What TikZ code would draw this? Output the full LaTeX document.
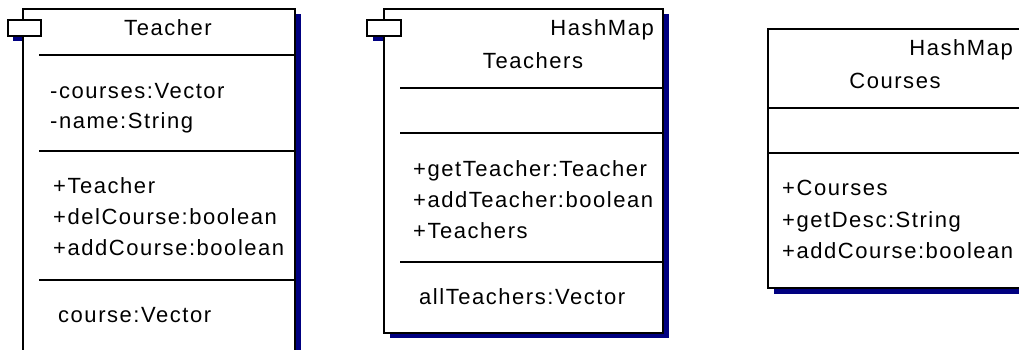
\documentclass[tikz,border=0pt]{standalone}
\usepackage{fontspec}
\setmainfont{Liberation Sans}[LetterSpace=7]
\definecolor{shadowblue}{RGB}{0,0,128}
\begin{document}
\begin{tikzpicture}[x=1pt,y=-1pt,
  boxline/.style={draw=black,line width=1.6pt},
  shadowfill/.style={fill=shadowblue,draw=none},
  txt/.style={inner sep=0pt,font=\fontsize{22}{26}\selectfont},
  lefttxt/.style={txt,anchor=base west},
  righttxt/.style={txt,anchor=base east},
  ctxt/.style={txt,anchor=base}]
\useasboundingbox (0,0) rectangle (1019,349);
\fill[white] (0,0) rectangle (1019,349);
\begin{scope}
\clip (0,0) rectangle (1019,349);
% ---------- Teacher ----------
\fill[shadowfill] (13,25) rectangle (23,41);
\fill[shadowfill] (295,14) rectangle (301,360);
\fill[white] (23,9) rectangle (295,360);
\draw[boxline] (23,360) -- (23,9) -- (295,9) -- (295,360);
\draw[boxline,fill=white] (8,20) rectangle (41,36);
\draw[boxline] (39,55) -- (295,55);
\draw[boxline] (39,151) -- (295,151);
\draw[boxline] (39,280) -- (295,280);
\node[ctxt] (t1) at (168,35) {Teacher};
\node[lefttxt] (t2) at (50,98) {-courses:Vector};
\node[lefttxt] (t3) at (50,128) {-name:String};
\node[lefttxt] (t4) at (53,193) {+Teacher};
\node[lefttxt] (t5) at (53,224) {+delCourse:boolean};
\node[lefttxt] (t6) at (53,255) {+addCourse:boolean};
\node[lefttxt] (t7) at (58,322) {course:Vector};
% ---------- Teachers ----------
\fill[shadowfill] (373,25) rectangle (384,41);
\fill[shadowfill] (390,14) rectangle (669,338);
\draw[boxline,fill=white] (384,9) rectangle (663,333);
\draw[boxline,fill=white] (367,20) rectangle (401,36);
\draw[boxline] (400,88) -- (663,88);
\draw[boxline] (400,133) -- (663,133);
\draw[boxline] (400,262) -- (663,262);
\node[righttxt] (s1) at (654,35) {HashMap};
\node[ctxt] (s2) at (533,68) {Teachers};
\node[lefttxt] (s3) at (413,176) {+getTeacher:Teacher};
\node[lefttxt] (s4) at (413,207) {+addTeacher:boolean};
\node[lefttxt] (s5) at (413,238) {+Teachers};
\node[lefttxt] (s6) at (419,304) {allTeachers:Vector};
% ---------- Courses ----------
\fill[shadowfill] (774,34) rectangle (1030,294);
\draw[boxline,fill=white] (768,29) rectangle (1040,288);
\draw[boxline] (768,108) -- (1040,108);
\draw[boxline] (768,153) -- (1040,153);
\node[righttxt] (c1) at (1013,55) {HashMap};
\node[ctxt] (c2) at (895,88) {Courses};
\node[lefttxt] (c3) at (782,195) {+Courses};
\node[lefttxt] (c4) at (782,227) {+getDesc:String};
\node[lefttxt] (c5) at (782,258) {+addCourse:boolean};
\end{scope}
\end{tikzpicture}
\end{document}
